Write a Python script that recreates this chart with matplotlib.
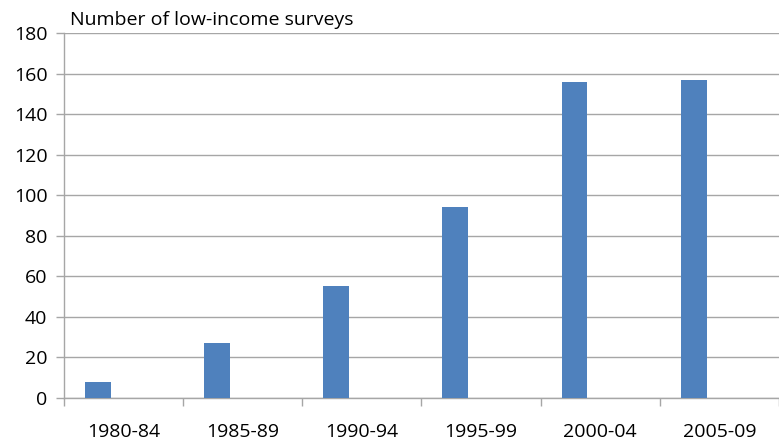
import matplotlib
matplotlib.use("Agg")
import matplotlib.pyplot as plt
import numpy as np

# values
periods = ["1980-84", "1985-89", "1990-94", "1995-99", "2000-04", "2005-09"]
surveys = [8, 27, 55, 94, 156, 157]
y_ticks = [0, 20, 40, 60, 80, 100, 120, 140, 160, 180]

BAR = "#4F81BD"
GRID = "#A6A6A6"

plt.rcParams["font.family"] = ["Open Sans", "DejaVu Sans"]

fig = plt.figure(figsize=(7.79, 4.47), dpi=100)
ax = fig.add_axes([64 / 779, 1 - 398 / 447, 1 - 64 / 779, (398 - 33) / 447])

x = np.arange(len(periods))
# Excel-style cluster: the visible series sits left of the category centre
ax.bar(x - 0.325, surveys, width=0.2167, align="edge", color=BAR, zorder=3)

ax.set_ylim(0, 180)
ax.set_yticks(y_ticks)
ax.set_xlim(-0.5, 5.45)
ax.yaxis.grid(True, color=GRID, lw=1.0, zorder=0)

ax.set_xticks(x)
ax.set_xticklabels(periods, fontsize=14)
ax.tick_params(axis="x", length=0, pad=18)
ax.set_xticks(np.arange(-0.5, 6.0, 1.0), minor=True)
ax.tick_params(axis="x", which="minor", length=6, color=GRID, width=1.0)
ax.tick_params(axis="y", length=6, color=GRID, width=1.0, labelsize=14, pad=6)

for s in ["top", "right"]:
    ax.spines[s].set_visible(False)
for s in ["left", "bottom"]:
    ax.spines[s].set_color(GRID)
    ax.spines[s].set_linewidth(1.0)

fig.text(70 / 779, 1 - 20 / 447, "Number of low-income surveys",
         fontsize=14, va="center", ha="left")

fig.savefig("out.png", dpi=100)
